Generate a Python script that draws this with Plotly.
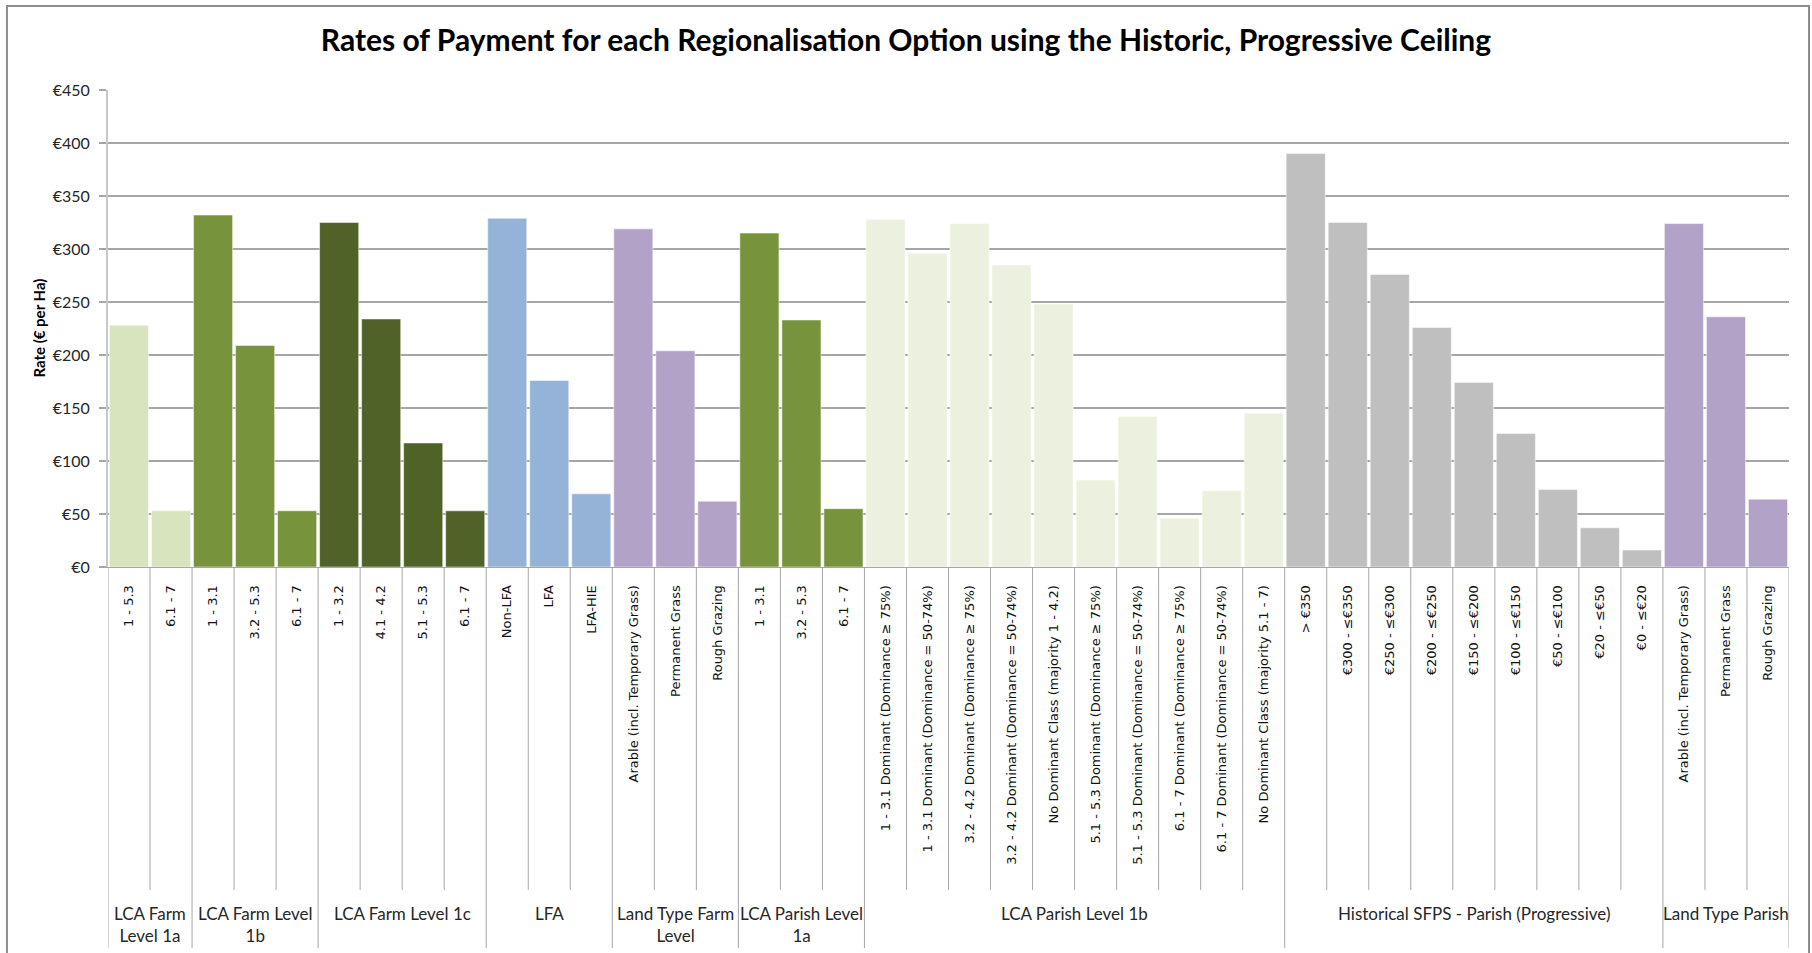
import plotly.graph_objects as go

# groups (one entry per bar), bar labels and rates
groups = (
    ["LCA Farm<br>Level 1a"] * 2
    + ["LCA Farm Level<br>1b"] * 3
    + ["LCA Farm Level 1c"] * 4
    + ["LFA"] * 3
    + ["Land Type Farm<br>Level"] * 3
    + ["LCA Parish Level<br>1a"] * 3
    + ["LCA Parish Level 1b"] * 10
    + ["Historical SFPS - Parish (Progressive)"] * 9
    + ["Land Type Parish"] * 3
)
labels = [
    "1 - 5.3", "6.1 - 7",
    "1 - 3.1", "3.2 - 5.3", "6.1 - 7",
    "1 - 3.2", "4.1 - 4.2", "5.1 - 5.3", "6.1 - 7",
    "Non-LFA", "LFA", "LFA-HIE",
    "Arable (incl. Temporary Grass)", "Permanent Grass", "Rough Grazing",
    "1 - 3.1", "3.2 - 5.3", "6.1 - 7",
    "1 - 3.1 Dominant (Dominance ≥ 75%)",
    "1 - 3.1 Dominant (Dominance = 50-74%)",
    "3.2 - 4.2 Dominant (Dominance ≥ 75%)",
    "3.2 - 4.2 Dominant (Dominance = 50-74%)",
    "No Dominant Class (majority 1 - 4.2)",
    "5.1 - 5.3 Dominant (Dominance ≥ 75%)",
    "5.1 - 5.3 Dominant (Dominance = 50-74%)",
    "6.1 - 7 Dominant (Dominance ≥ 75%)",
    "6.1 - 7 Dominant (Dominance = 50-74%)",
    "No Dominant Class (majority 5.1 - 7)",
    "> €350", "€300 - ≤€350", "€250 - ≤€300", "€200 - ≤€250", "€150 - ≤€200",
    "€100 - ≤€150", "€50 - ≤€100", "€20 - ≤€50", "€0 - ≤€20",
    "Arable (incl. Temporary Grass)", "Permanent Grass", "Rough Grazing",
]
rates = [
    228, 53,
    332, 209, 53,
    325, 234, 117, 53,
    329, 176, 69,
    319, 204, 62,
    315, 233, 55,
    328, 296, 324, 285, 248, 82, 142, 46, 72, 145,
    390, 325, 276, 226, 174, 126, 73, 37, 16,
    324, 236, 64,
]
group_colors = {
    "LCA Farm<br>Level 1a": "#D7E4BD",
    "LCA Farm Level<br>1b": "#77933C",
    "LCA Farm Level 1c": "#4F6228",
    "LFA": "#95B3D7",
    "Land Type Farm<br>Level": "#B3A2C7",
    "LCA Parish Level<br>1a": "#77933C",
    "LCA Parish Level 1b": "#EBF1DE",
    "Historical SFPS - Parish (Progressive)": "#BFBFBF",
    "Land Type Parish": "#B3A2C7",
}

x = list(range(len(rates)))

fig = go.Figure(go.Bar(
    x=x, y=rates,
    marker_color=[group_colors[g] for g in groups],
    marker_line=dict(color="#FFFFFF", width=0.5),
))

# separators under the axis: short between bars, long between groups
shapes = []
group_order = []
for i, g in enumerate(groups):
    if not group_order or group_order[-1][0] != g:
        group_order.append([g, i, i])
    else:
        group_order[-1][2] = i
starts = {s for _, s, _ in group_order} | {len(groups)}
for b in range(len(groups) + 1):
    long = b in starts
    shapes.append(dict(type="line", xref="x", yref="paper",
                       x0=b - 0.5, x1=b - 0.5, y0=0, y1=-0.799 if long else -0.677,
                       line=dict(color="#A6A6A6", width=1)))
# chart border
shapes.append(dict(type="rect", xref="paper", yref="paper",
                   x0=-0.0601, x1=1.0119, y0=1.176, y1=-0.83,
                   line=dict(color="#8C8C8C", width=2)))

annotations = []
for g, s, e in group_order:
    annotations.append(dict(x=(s + e) / 2, y=-0.7, xref="x", yref="paper",
                            text=g, showarrow=False, yanchor="top",
                            font=dict(family="Lato", size=17, color="#262626")))
# y axis title
annotations.append(dict(x=-0.0416, y=0.5, xref="paper", yref="paper",
                        text="<b>Rate (€ per Ha)</b>", textangle=-90, showarrow=False,
                        xanchor="center", yanchor="middle",
                        font=dict(family="Lato", size=15, color="#000000")))

fig.update_layout(
    width=1812, height=953,
    margin=dict(l=108, r=23, t=90, b=386),
    paper_bgcolor="white", plot_bgcolor="white",
    title=dict(text="<b>Rates of Payment for each Regionalisation Option using the Historic, Progressive Ceiling</b>",
               x=0.5, xanchor="center", y=0.957, yanchor="middle",
               font=dict(family="Lato", size=30, color="#000000")),
    bargap=0.07,
    showlegend=False,
    shapes=shapes,
    annotations=annotations,
)
fig.update_xaxes(
    range=[-0.5, len(rates) - 0.5],
    tickmode="array", tickvals=x, ticktext=labels, tickangle=-90,
    tickfont=dict(family="DejaVu Sans", size=13, color="#111111"),
    showgrid=False, showline=True, linecolor="#A6A6A6", ticks="",
    ticklabelstandoff=12, automargin=False,
)
fig.update_yaxes(
    range=[0, 450], dtick=50, tickprefix="€",
    tickfont=dict(family="Lato", size=16, color="#262626"),
    showgrid=True, gridcolor="#A6A6A6", gridwidth=1.5,
    showline=True, linewidth=2, linecolor="#C8C8C8",
    ticks="outside", ticklen=7, tickcolor="#A6A6A6", tickwidth=1.5,
    ticklabelstandoff=6,
    zeroline=False, automargin=False,
)

# drop the default page margin so the figure sits at the window's corner
fig.write_html("out.html", config={"displayModeBar": False},
               post_script="document.body.style.margin='0';")
